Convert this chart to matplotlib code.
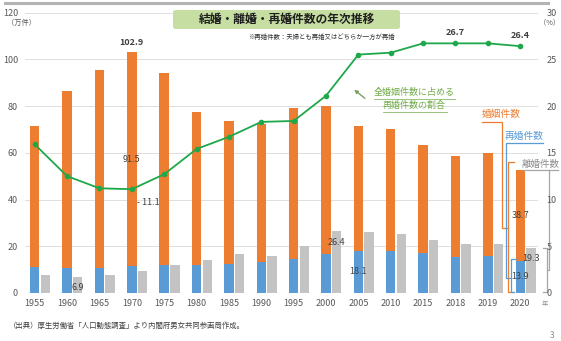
import matplotlib.pyplot as plt
from matplotlib.lines import Line2D
from matplotlib.patches import FancyBboxPatch

plt.rcParams['font.family'] = ['Noto Sans CJK JP', 'DejaVu Sans']

# 婚姻・再婚・離婚件数（万件）と再婚割合（%）
years = ["1955", "1960", "1965", "1970", "1975", "1980", "1985", "1990",
         "1995", "2000", "2005", "2010", "2015", "2018", "2019", "2020"]
marriages = [71.5, 86.6, 95.5, 102.9, 94.2, 77.5, 73.6, 72.2,
             79.2, 79.8, 71.4, 70.0, 63.5, 58.6, 59.9, 52.6]
remarriages = [11.1, 10.7, 10.8, 11.4, 12.0, 11.8, 12.2, 13.2,
               14.5, 16.8, 18.1, 18.0, 17.0, 15.6, 16.0, 13.9]
divorces = [7.5, 6.9, 7.7, 9.6, 11.9, 14.2, 16.7, 15.8,
            19.9, 26.4, 26.2, 25.1, 22.6, 20.8, 20.9, 19.3]
remarriage_share = [15.9, 12.5, 11.2, 11.1, 12.7, 15.4, 16.7, 18.3,
                    18.4, 21.1, 25.5, 25.7, 26.7, 26.7, 26.7, 26.4]

first_marriages = [round(t - r, 1) for t, r in zip(marriages, remarriages)]

ORANGE = "#ed7d31"
BLUE = "#5b9bd5"
GRAY = "#c3c3c3"
GREEN = "#1ea84a"
LABEL_GREEN = "#72ad4a"
TEXT = "#404040"
TICK = "#595959"

W, H = 561, 341


def px(x, y):
    return x / W, 1 - y / H


fig = plt.figure(figsize=(W / 100, H / 100), dpi=100)
ax = fig.add_axes([25 / W, 1 - 293 / H, (538 - 25) / W, (293 - 12.5) / H])
ax2 = ax.twinx()

x = list(range(len(years)))
bw = 0.29
gx = [i + 0.33 for i in x]

ax.bar(x, remarriages, width=bw, color=BLUE, zorder=2)
ax.bar(x, first_marriages, width=bw, bottom=remarriages, color=ORANGE, zorder=2)
ax.bar(gx, divorces, width=bw, color=GRAY, zorder=2)

ax2.plot(x, remarriage_share, color=GREEN, lw=1.3, marker="o", ms=3, zorder=3)

ax.set_xlim(-0.3, 15.55)
ax.set_ylim(0, 120)
ax2.set_ylim(0, 30)
ax.set_yticks(range(0, 121, 20))
ax2.set_yticks(range(0, 31, 5))
ax.set_xticks(x)
ax.set_xticklabels(years)
ax.grid(axis="y", color="#dedede", lw=0.7, zorder=0)
ax.set_axisbelow(True)
for a in (ax, ax2):
    for s in a.spines.values():
        s.set_visible(False)
    a.tick_params(length=0, labelsize=6.5, labelcolor=TICK)
ax.tick_params(axis="y", pad=5)
ax.tick_params(axis="x", pad=4)
ax2.tick_params(axis="y", pad=6)

# 値ラベル
i70 = years.index("1970")
ax.annotate(f"{marriages[i70]:.1f}", (i70, marriages[i70]), xytext=(0, 4),
            textcoords="offset points", ha="center", va="bottom",
            fontsize=6.5, weight="bold", color=TEXT)
ax.text(i70, remarriages[i70] + first_marriages[i70] / 2, f"{first_marriages[i70]:.1f}",
        ha="center", va="center", fontsize=6.5, color=TEXT)
ax2.annotate(f"- {remarriage_share[i70]:.1f}", (i70, remarriage_share[i70]),
             xytext=(4, -9.5), textcoords="offset points", ha="left", va="center",
             fontsize=6.5, color=TEXT)

for yr in ("1960", "2000", "2020"):
    i = years.index(yr)
    ax.annotate(f"{divorces[i]:.1f}", (gx[i], divorces[i]), xytext=(0, -8),
                textcoords="offset points", ha="center", va="center",
                fontsize=6.5, color=TEXT)

i05 = years.index("2005")
ax.text(i05, remarriages[i05] / 2, f"{remarriages[i05]:.1f}",
        ha="center", va="center", fontsize=6.5, color=TEXT)

last = len(years) - 1
ax.text(last, remarriages[last] + first_marriages[last] / 2, f"{first_marriages[last]:.1f}",
        ha="center", va="center", fontsize=6.5, color=TEXT)
ax.text(last, remarriages[last] / 2, f"{remarriages[last]:.1f}",
        ha="center", va="center", fontsize=6.5, color=TEXT)

for yr in ("2018", "2020"):
    i = years.index(yr)
    ax2.annotate(f"{remarriage_share[i]:.1f}", (i, remarriage_share[i]), xytext=(0, 7.5),
                 textcoords="offset points", ha="center", va="center",
                 fontsize=6.5, weight="bold", color=TEXT)

# 2020年の凡例代わりの引き出し線
def callout(xs, ys, color):
    ax.add_line(Line2D(xs, ys, color=color, lw=0.9, clip_on=False, zorder=4))


callout([last - 1.19, last - 0.57, last - 0.57, last - 0.37], [73.3, 73.3, 27.9, 27.9], ORANGE)
callout([last - 0.2, last - 0.37, last - 0.37, last - 0.25],
        [marriages[last] + 3.5, marriages[last] + 3.5, 0.4, 0.4], ORANGE)
ax.text(last - 0.6, 76.5, "婚姻件数", ha="center", va="center", fontsize=7, color=ORANGE)

callout([last + 0.7, last - 0.43, last - 0.43, last - 0.29], [64.3, 64.3, 6.4, 6.4], BLUE)
callout([last - 0.14, last - 0.29, last - 0.29, last - 0.18],
        [remarriages[last] + 0.7, remarriages[last] + 0.7, 0.4, 0.4], BLUE)
ax.text(last + 0.12, 67.0, "再婚件数", ha="center", va="center", fontsize=7, color=BLUE)

callout([last + 0.1, last + 1.16], [52.6, 52.6], "#a6a6a6")
callout([last + 0.88, last + 0.88, last + 0.82], [52.6, 9.9, 9.9], "#a6a6a6")
callout([last + 0.7, last + 0.82, last + 0.82, last + 0.7],
        [divorces[last], divorces[last], 0.4, 0.4], "#a6a6a6")
ax.text(last + 0.63, 55.2, "離婚件数", ha="center", va="center", fontsize=6.8, color="#8c8c8c")

# 軸の単位
fig.text(*px(7, 22.5), "（万件）", fontsize=5.2, color=TICK, va="center", ha="left")
fig.text(*px(539, 22.5), "（%）", fontsize=5.2, color=TICK, va="center", ha="left")
fig.text(*px(542, 304), "年", fontsize=4.5, color="#8c8c8c", va="center", ha="left")

# 再婚割合の説明と矢印
fig.text(*px(414, 92), "全婚姻件数に占める", fontsize=6.5, color=LABEL_GREEN, ha="center", va="center")
fig.text(*px(414, 105), "再婚件数の割合", fontsize=6.5, color=LABEL_GREEN, ha="center", va="center")
fig.add_artist(Line2D([374 / W, 455 / W], [1 - 99 / H] * 2, color=LABEL_GREEN, lw=0.5))
fig.add_artist(Line2D([383 / W, 447 / W], [1 - 112 / H] * 2, color=LABEL_GREEN, lw=0.5))
fig.add_artist(plt.Annotation("", xy=px(352, 88), xytext=px(367, 100),
                              xycoords="figure fraction", textcoords="figure fraction",
                              arrowprops=dict(arrowstyle="-|>", color="#7f9f62", lw=1,
                                              mutation_scale=5)))

# タイトル
fig.add_artist(Line2D([5 / W, 548 / W], [1 - 3 / H] * 2, color="#b4b4b4", lw=2.2))
box_x0, box_y0 = px(173, 29)
fig.add_artist(FancyBboxPatch((box_x0, box_y0), 227 / W, 19 / H,
                              boxstyle="round,pad=0,rounding_size=0.006",
                              transform=fig.transFigure, facecolor="#c6dea2",
                              edgecolor="none"))
fig.text(*px(287, 19.5), "結婚・離婚・再婚件数の年次推移", fontsize=8.5, weight="bold",
         color="#1f1f1f", ha="center", va="center")
fig.text(*px(248, 37), "※再婚件数：夫婦とも再婚又はどちらか一方が再婚", fontsize=4.6,
         color="#333333", ha="left", va="center")

fig.text(*px(9, 326), "（出典）厚生労働省「人口動態調査」より内閣府男女共同参画局作成。",
         fontsize=5.3, color=TEXT, ha="left", va="center")
fig.text(*px(552, 336), "3", fontsize=6, color="#8c8c8c", ha="center", va="center")

fig.savefig("out.png", dpi=100)
